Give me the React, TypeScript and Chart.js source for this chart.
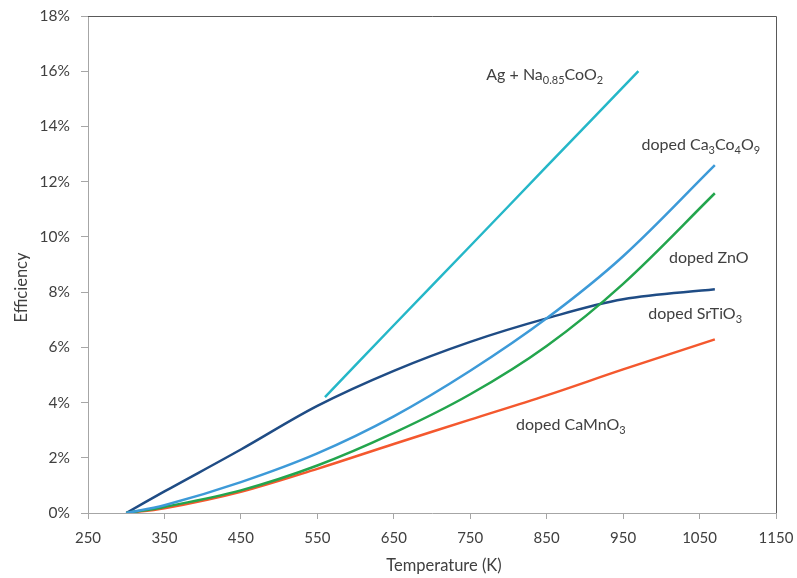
import React, { useEffect, useRef } from "react";
import { Chart, registerables } from "chart.js";

Chart.register(...registerables);

// Temperature (K) sample points
const temps = [300, 350, 450, 550, 650, 750, 850, 950, 1070];
const srTiO3 = [0, 0.78, 2.3, 3.88, 5.15, 6.2, 7.05, 7.74, 8.1];
const ca3Co4O9 = [0, 0.28, 1.12, 2.16, 3.5, 5.15, 7.05, 9.3, 12.6];
const znO = [0, 0.22, 0.82, 1.72, 2.9, 4.3, 6.05, 8.3, 11.58];
const caMnO3 = [0, 0.17, 0.77, 1.6, 2.5, 3.38, 4.26, 5.2, 6.29];

const agTemps = [560, 650, 750, 850, 970];
const agNaCoO2 = [4.2, 6.8, 9.67, 12.55, 16.0];

const xTicks = [250, 350, 450, 550, 650, 750, 850, 950, 1050, 1150];
const yTicks = [0, 2, 4, 6, 8, 10, 12, 14, 16, 18];

// Labels: text segments (sub = subscript) and anchor in data units (T, %)
const labels = [
  { parts: [{ t: "Ag + Na" }, { t: "0.85", sub: true }, { t: "CoO" }, { t: "2", sub: true }], at: [771, 15.7] },
  { parts: [{ t: "doped Ca" }, { t: "3", sub: true }, { t: "Co" }, { t: "4", sub: true }, { t: "O" }, { t: "9", sub: true }], at: [974, 13.15] },
  { parts: [{ t: "doped ZnO" }], at: [1010, 9.05] },
  { parts: [{ t: "doped SrTiO" }, { t: "3", sub: true }], at: [983, 7.01] },
  { parts: [{ t: "doped CaMnO" }, { t: "3", sub: true }], at: [810, 3.02] },
];

const FONT = "Lato, 'Open Sans', sans-serif";
const TEXT = "#404040";

function pts(xs: number[], ys: number[]) {
  return xs.map((x, i) => ({ x, y: ys[i] }));
}

const annotatePlugin = {
  id: "annotate",
  afterDraw(chart: any) {
    const ctx = chart.ctx;
    const { left, right, top, bottom } = chart.chartArea;
    const xs = chart.scales.x;
    const ys = chart.scales.y;
    ctx.save();
    // top and right border
    ctx.strokeStyle = "#595959";
    ctx.lineWidth = 1;
    ctx.beginPath();
    ctx.moveTo(left, top + 0.5);
    ctx.lineTo(right + 0.5, top + 0.5);
    ctx.lineTo(right + 0.5, bottom);
    ctx.stroke();

    ctx.fillStyle = TEXT;
    ctx.textBaseline = "alphabetic";
    ctx.textAlign = "left";
    for (const lab of labels) {
      let x = xs.getPixelForValue(lab.at[0]);
      const y = ys.getPixelForValue(lab.at[1]);
      for (const p of lab.parts as any[]) {
        if (p.sub) {
          ctx.font = `11px ${FONT}`;
          ctx.fillText(p.t, x, y + 4);
        } else {
          ctx.font = `16px ${FONT}`;
          ctx.fillText(p.t, x, y);
        }
        x += ctx.measureText(p.t).width;
      }
    }

    // axis titles
    ctx.font = `16.5px ${FONT}`;
    ctx.textAlign = "center";
    ctx.textBaseline = "middle";
    ctx.fillText("Temperature (K)", (left + right) / 2 + 12, bottom + 53);
    ctx.translate(left - 66, (top + bottom) / 2 + 23);
    ctx.rotate(-Math.PI / 2);
    ctx.fillText("Efficiency", 0, 0);
    ctx.restore();
  },
};

export default function App() {
  const ref = useRef<HTMLCanvasElement>(null);
  useEffect(() => {
    document.body.style.margin = "0";
    const line = (label: string, data: any[], color: string) => ({
      label,
      data,
      borderColor: color,
      backgroundColor: color,
      borderWidth: 2.5,
      pointRadius: 0,
      fill: false,
      tension: 0.35,
    });
    const chart = new Chart(ref.current!, {
      type: "line",
      data: {
        datasets: [
          line("Ag + Na0.85CoO2", pts(agTemps, agNaCoO2), "#25B7C8"),
          line("doped Ca3Co4O9", pts(temps, ca3Co4O9), "#3D9AD8"),
          line("doped ZnO", pts(temps, znO), "#23A54D"),
          line("doped SrTiO3", pts(temps, srTiO3), "#1F4C85"),
          line("doped CaMnO3", pts(temps, caMnO3), "#F4582E"),
        ],
      },
      options: {
        animation: false,
        responsive: false,
        layout: { padding: { top: 16, right: 21, left: 0, bottom: 0 } },
        plugins: { legend: { display: false }, tooltip: { enabled: false } },
        scales: {
          x: {
            type: "linear",
            min: 250,
            max: 1150,
            afterBuildTicks: (s: any) => {
              s.ticks = xTicks.map((v) => ({ value: v }));
            },
            afterFit: (s: any) => {
              s.height = 65;
              s.paddingLeft = 0;
              s.paddingRight = 0;
            },
            grid: { drawOnChartArea: false, drawTicks: true, tickLength: 6, color: "#A6A6A6" },
            border: { color: "#A6A6A6" },
            ticks: {
              font: { family: FONT, size: 15 },
              color: TEXT,
              padding: 10,
              maxRotation: 0,
              callback: (v: any) => String(v),
            },
          },
          y: {
            type: "linear",
            min: 0,
            max: 18,
            afterBuildTicks: (s: any) => {
              s.ticks = yTicks.map((v) => ({ value: v }));
            },
            afterFit: (s: any) => {
              s.width = 88;
              s.paddingTop = 0;
              s.paddingBottom = 0;
            },
            grid: { drawOnChartArea: false, drawTicks: true, tickLength: 7, color: "#A6A6A6" },
            border: { color: "#A6A6A6" },
            ticks: {
              font: { family: FONT, size: 15.5 },
              color: TEXT,
              padding: 11,
              callback: (v: any) => `${v}%`,
            },
          },
        },
      },
      plugins: [annotatePlugin],
    });
    return () => chart.destroy();
  }, []);
  return (
    <div style={{ width: 797, height: 578, background: "#fff" }}>
      <canvas ref={ref} width={797} height={578} style={{ display: "block" }} />
    </div>
  );
}
